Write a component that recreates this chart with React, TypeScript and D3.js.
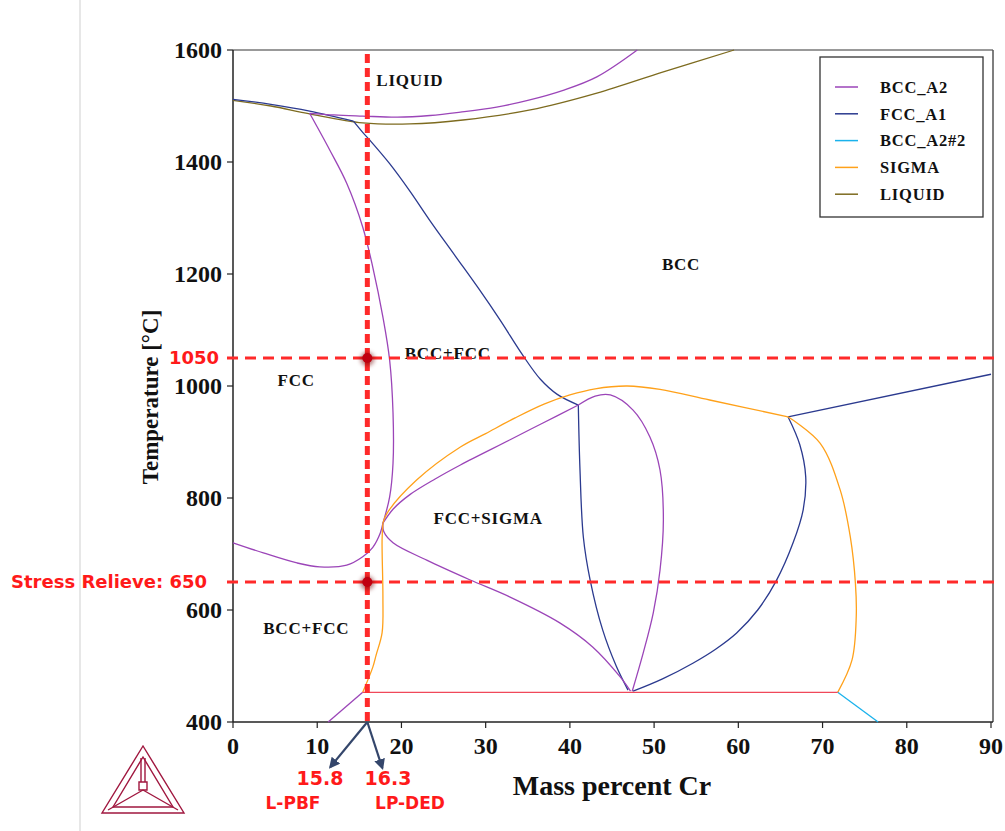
import React from 'react'
import * as d3 from 'd3'

type Pt = [number, number]

// phase boundaries, [mass % Cr, temperature °C]
const liquidCurve: Pt[] = [[0, 1510], [4.5, 1500], [9.1, 1486], [15.4, 1470], [21, 1468], [27.3, 1475], [35.3, 1493], [43.2, 1523], [51.1, 1561], [59.5, 1600]]

const bccLiquidus: Pt[] = [[9.1, 1487], [12, 1484], [15.4, 1482], [19.5, 1480], [23.4, 1483], [27, 1489], [31.3, 1498], [35, 1510], [39.2, 1528], [43.2, 1552], [48, 1600]]
const bccFccUpper: Pt[] = [[9.1, 1487], [11.5, 1421], [13.5, 1362], [15.4, 1284], [16.6, 1212], [17.8, 1123], [18.6, 1046], [19.0, 952], [19.0, 862], [18.6, 802], [17.8, 755]]
const bccFccLower: Pt[] = [[0, 720], [3.6, 702], [7.6, 684], [10.3, 677], [13.5, 680], [15.4, 695], [16.6, 712], [17.5, 738], [17.8, 755]]
const bccSigmaUpper: Pt[] = [[17.8, 755], [19, 780], [21, 806], [24, 834], [27, 859], [32.9, 904], [36.8, 934], [41, 966]]
const bccLens: Pt[] = [[41, 966], [43, 982], [44.8, 984], [47.5, 957], [49.5, 909], [50.7, 850], [51.1, 761], [50.7, 671], [49.9, 595], [48.7, 523], [47.4, 455]]
const bccSigmaLower: Pt[] = [[17.8, 755], [17.9, 740], [19, 720], [23, 689], [28.1, 654], [32.9, 623], [38.8, 577], [42.7, 534], [46, 480], [47.2, 455]]
const bccBottom: Pt[] = [[11.3, 400], [15.4, 453]]

const fccTop: Pt[] = [[0, 1512], [4.5, 1503], [9.1, 1491], [14.3, 1473]]
const fccBcc: Pt[] = [[14.3, 1473], [15.4, 1453], [16.3, 1438], [18.6, 1397], [21, 1348], [23.4, 1295], [26.4, 1232], [29.3, 1171], [31.7, 1118], [34.4, 1055], [36.5, 1012], [38.5, 985], [41, 966]]
const fccSigmaLeft: Pt[] = [[41, 966], [41.2, 850], [41.6, 730], [42.4, 654], [43.9, 564], [45.5, 500], [46.9, 457]]
const fccLensRight: Pt[] = [[65.9, 945], [67.3, 895], [68, 838], [67.7, 779], [66.5, 720], [64.5, 652], [62.3, 600], [59.8, 559], [57.3, 530], [54.6, 505], [51, 477], [47.5, 455]]
const fccRight: Pt[] = [[65.9, 945], [90, 1021]]

const sigmaTop: Pt[] = [[17.8, 755], [18.3, 773], [21.8, 832], [27, 891], [30, 915], [33.5, 943], [37, 968], [40, 984], [43, 995], [46.8, 1000], [50.7, 994], [56.6, 975], [65.9, 945]]
const sigmaRight: Pt[] = [[65.9, 945], [69.7, 898], [72.1, 814], [73.3, 730], [73.9, 648], [74, 588], [73.5, 511], [71.8, 453]]
const sigmaLeft: Pt[] = [[17.8, 755], [17.7, 725], [17.8, 623], [17.7, 559], [17, 520], [16.6, 498], [15.4, 453]]

const bcc2Line: Pt[] = [[71.8, 453], [76.6, 400]]
const eutectoidLine: Pt[] = [[15.4, 453], [71.8, 453]]

const xTicks = [0, 10, 20, 30, 40, 50, 60, 70, 80, 90]
const yTicks = [400, 600, 800, 1000, 1200, 1400, 1600]

const legendNames = ['BCC_A2', 'FCC_A1', 'BCC_A2#2', 'SIGMA', 'LIQUID']
const legendColors = ['#9b45b8', '#2b3a8f', '#1ab2ec', '#ffa11a', '#7d6b1f']

const regionLabels: { text: string; cr: number; t: number }[] = [
  { text: 'LIQUID', cr: 21, t: 1546 },
  { text: 'BCC', cr: 53.2, t: 1217 },
  { text: 'BCC+FCC', cr: 25.5, t: 1059 },
  { text: 'FCC', cr: 7.5, t: 1010 },
  { text: 'FCC+SIGMA', cr: 30.3, t: 764 },
  { text: 'BCC+FCC', cr: 8.7, t: 567 },
]

// process markers
const markerCr = 15.95
const solutionT = 1050
const stressT = 650

const serif = '"Liberation Serif", "Times New Roman", serif'
const sans = '"DejaVu Sans", "Noto Sans", sans-serif'

export default function App() {
  const width = 1005
  const height = 831
  const x = d3.scaleLinear().domain([0, 90]).range([233, 991])
  const y = d3.scaleLinear().domain([400, 1600]).range([722, 50])
  const line = d3.line<Pt>().x(d => x(d[0])).y(d => y(d[1])).curve(d3.curveCatmullRom.alpha(0.5))

  const curves: { pts: Pt[]; color: string }[] = [
    { pts: liquidCurve, color: legendColors[4] },
    { pts: fccTop, color: legendColors[1] },
    { pts: fccBcc, color: legendColors[1] },
    { pts: fccSigmaLeft, color: legendColors[1] },
    { pts: fccLensRight, color: legendColors[1] },
    { pts: fccRight, color: legendColors[1] },
    { pts: bccLiquidus, color: legendColors[0] },
    { pts: bccFccUpper, color: legendColors[0] },
    { pts: bccFccLower, color: legendColors[0] },
    { pts: bccSigmaUpper, color: legendColors[0] },
    { pts: bccLens, color: legendColors[0] },
    { pts: bccSigmaLower, color: legendColors[0] },
    { pts: bccBottom, color: legendColors[0] },
    { pts: sigmaTop, color: legendColors[3] },
    { pts: sigmaRight, color: legendColors[3] },
    { pts: sigmaLeft, color: legendColors[3] },
    { pts: bcc2Line, color: legendColors[2] },
    { pts: eutectoidLine, color: '#f0485a' },
  ]

  const x0 = x(0), x1 = x(90), yb = y(400), yt = y(1600)
  const mx = x(markerCr)

  return (
    <div>
      <style>{`body{margin:0}`}</style>
      <svg width={width} height={height} style={{ display: 'block', background: '#fff' }}>
        <defs>
          <marker id="arr" viewBox="0 0 10 10" refX="8" refY="5" markerWidth="5" markerHeight="5" orient="auto">
            <path d="M0,0 L10,5 L0,10 z" fill="#34466b" />
          </marker>
          <filter id="blur" x="-1" y="-1" width="3" height="3">
            <feGaussianBlur stdDeviation="2" />
          </filter>
        </defs>

        {/* side separator */}
        <line x1={80} x2={80} y1={0} y2={height} stroke="#cfcfcf" strokeWidth={1} />

        {/* frame */}
        <line x1={x0} x2={x1 + 2} y1={yt} y2={yt} stroke="#777" strokeWidth={1.5} />
        <line x1={x1 + 2} x2={x1 + 2} y1={yt} y2={yb} stroke="#555" strokeWidth={1.5} />
        <line x1={x0} x2={x1 + 2} y1={yb} y2={yb} stroke="#222" strokeWidth={1.5} />
        <line x1={x0} x2={x0} y1={yt} y2={yb} stroke="#222" strokeWidth={1.5} />

        {xTicks.map(t => (
          <g key={'x' + t}>
            <line x1={x(t)} x2={x(t)} y1={yb} y2={yb + 6} stroke="#222" strokeWidth={1.2} />
            <text x={x(t)} y={yb + 32} textAnchor="middle" fontFamily={serif} fontWeight="bold" fontSize={24} fill="#111">{t}</text>
          </g>
        ))}
        {yTicks.map(t => (
          <g key={'y' + t}>
            <line x1={x0 - 6} x2={x0} y1={y(t)} y2={y(t)} stroke="#222" strokeWidth={1.2} />
            <text x={x0 - 11} y={y(t)} dy="0.35em" textAnchor="end" fontFamily={serif} fontWeight="bold" fontSize={24} fill="#111">{t}</text>
          </g>
        ))}

        <text x={612} y={795} textAnchor="middle" fontFamily={serif} fontWeight="bold" fontSize={28} fill="#111">Mass percent Cr</text>
        <text transform="translate(150,397) rotate(-90)" dy="0.35em" textAnchor="middle" fontFamily={serif} fontWeight="bold" fontSize={23} fill="#111">Temperature [°C]</text>

        {/* phase boundaries */}
        {curves.map((c, i) => (
          <path key={i} d={line(c.pts) || ''} fill="none" stroke={c.color} strokeWidth={1.3} />
        ))}

        {regionLabels.map((r, i) => (
          <text key={i} x={x(r.cr)} y={y(r.t)} dy="0.35em" textAnchor="middle" fontFamily={serif} fontWeight="bold" fontSize={17} letterSpacing={0.8} fill="#111">{r.text}</text>
        ))}

        {/* legend */}
        <rect x={820} y={57} width={163} height={160} fill="#fff" stroke="#333" strokeWidth={1.3} />
        {legendNames.map((n, i) => (
          <g key={n} transform={`translate(835,${87 + i * 26.8})`}>
            <line x1={0} x2={23} y1={0} y2={0} stroke={legendColors[i]} strokeWidth={1.5} />
            <text x={45} y={0} dy="0.35em" fontFamily={serif} fontWeight="bold" fontSize={16.5} letterSpacing={0.8} fill="#111">{n}</text>
          </g>
        ))}

        {/* process guide lines */}
        <line x1={x0 - 6} x2={1000} y1={y(solutionT)} y2={y(solutionT)} stroke="#ff2a2a" strokeWidth={3} strokeDasharray="11,7" />
        <line x1={x0 - 6} x2={1000} y1={y(stressT)} y2={y(stressT)} stroke="#ff2a2a" strokeWidth={3} strokeDasharray="11,7" />
        <line x1={mx} x2={mx} y1={54} y2={yb + 4} stroke="#ff2a2a" strokeWidth={5} strokeDasharray="9,5" />
        {[solutionT, stressT].map(t => (
          <g key={'dot' + t}>
            <circle cx={mx} cy={y(t) + 1} r={7} fill="#700000" opacity={0.5} filter="url(#blur)" />
            <circle cx={mx} cy={y(t)} r={5} fill="#c00010" />
          </g>
        ))}

        <text x={x0 - 14} y={y(solutionT)} dy="0.36em" textAnchor="end" fontFamily={sans} fontWeight="bold" fontSize={18} fill="#ff1a1a">{solutionT}</text>
        <text x={x0 - 26} y={y(stressT)} dy="0.36em" textAnchor="end" fontFamily={sans} fontWeight="bold" fontSize={18} fill="#ff1a1a">Stress Relieve: {stressT}</text>

        {/* composition arrows */}
        <line x1={mx} y1={yb} x2={mx - 37} y2={yb + 45} stroke="#34466b" strokeWidth={2.2} markerEnd="url(#arr)" />
        <line x1={mx} y1={yb} x2={mx + 15} y2={yb + 46} stroke="#34466b" strokeWidth={2.2} markerEnd="url(#arr)" />
        <text x={320} y={785} textAnchor="middle" fontFamily={sans} fontWeight="bold" fontSize={19} fill="#ff1a1a">15.8</text>
        <text x={388} y={785} textAnchor="middle" fontFamily={sans} fontWeight="bold" fontSize={19} fill="#ff1a1a">16.3</text>
        <text x={293} y={809} textAnchor="middle" fontFamily={sans} fontWeight="bold" fontSize={17} fill="#ff1a1a">L-PBF</text>
        <text x={410} y={809} textAnchor="middle" fontFamily={sans} fontWeight="bold" fontSize={17} fill="#ff1a1a">LP-DED</text>

        {/* logo */}
        <g fill="none" stroke="#a0173f" strokeWidth={1.4}>
          <path d="M143,746 L102,813 L184,813 Z" />
          <path d="M143,757 L113,807 L173,807 Z" />
          <path d="M141,758 L141,782 M145,758 L145,782" />
          <path d="M139,782 L147,782 L147,790 L139,790 Z" />
          <path d="M143,790 L108,810 M143,790 L178,810" />
        </g>
      </svg>
    </div>
  )
}
